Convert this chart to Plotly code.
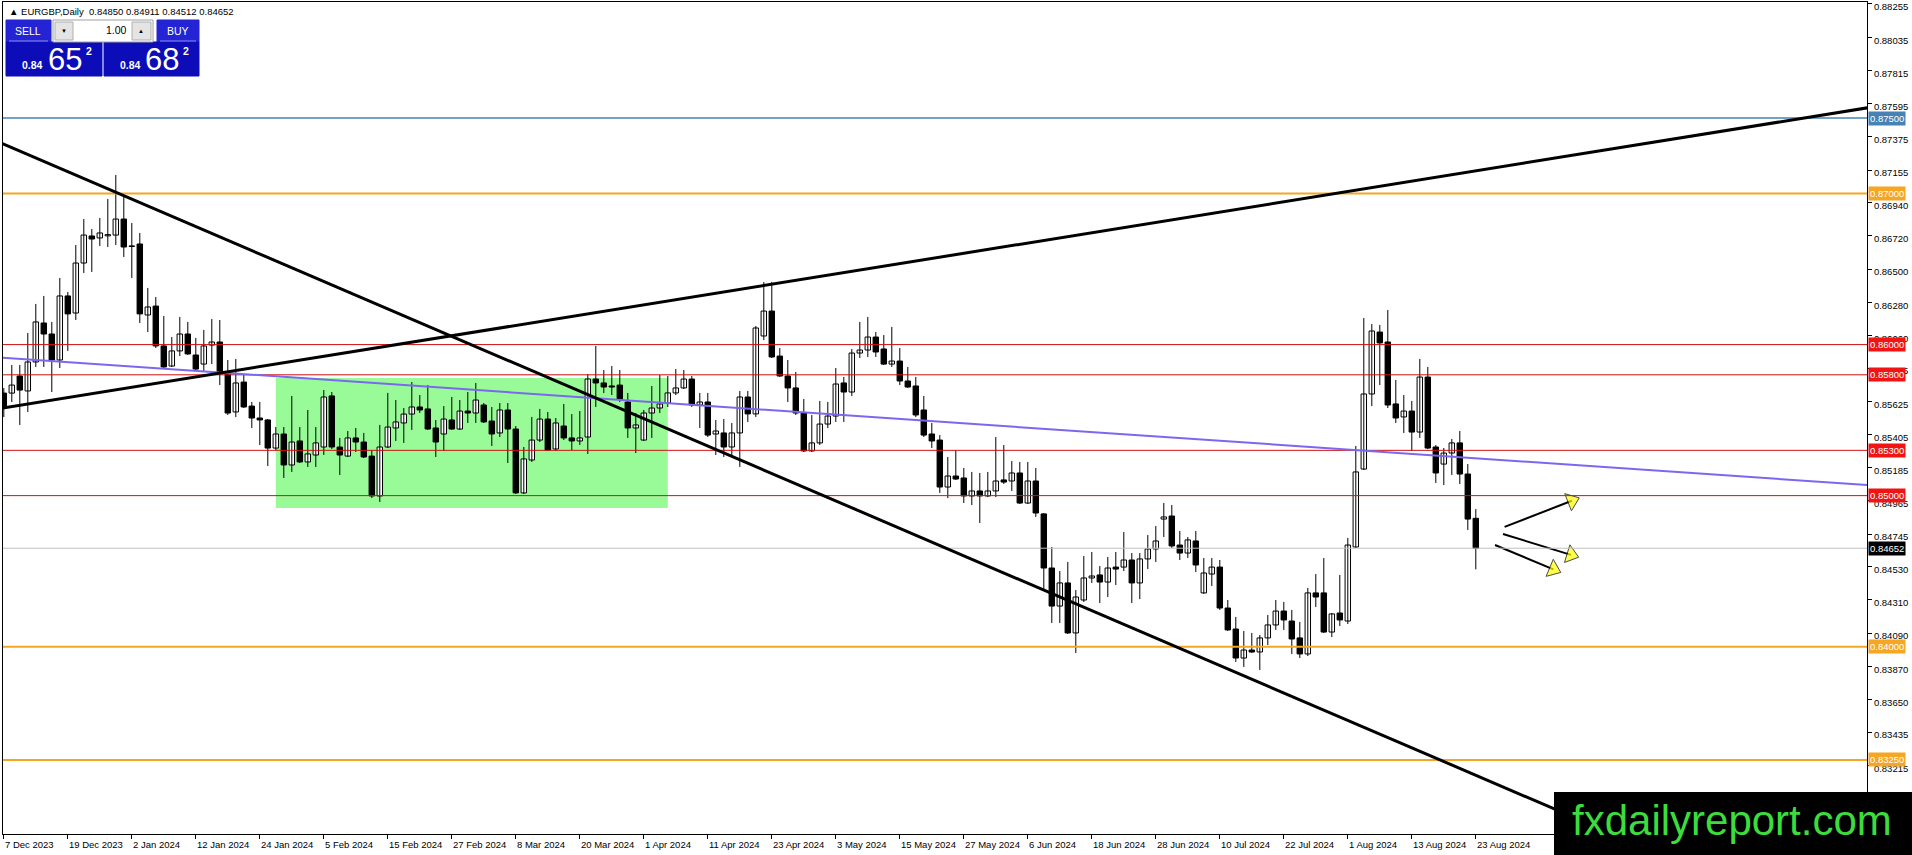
import plotly.graph_objects as go

# EURGBP daily bars, 7 Dec 2023 .. 23 Aug 2024 (bar index 0..184)
opens = [
    0.85679, 0.85679, 0.85792, 0.85693, 0.85885, 0.86143, 0.86070, 0.85898, 0.86322, 0.86209,
    0.86540, 0.86719, 0.86706, 0.86720, 0.86725, 0.86831, 0.86653, 0.86666, 0.86196, 0.86255,
    0.85991, 0.85858, 0.85958, 0.86070, 0.85931, 0.85871, 0.85997, 0.86017, 0.85805, 0.85554,
    0.85752, 0.85593, 0.85514, 0.85501, 0.85315, 0.85408, 0.85203, 0.85362, 0.85223, 0.85269,
    0.85322, 0.85660, 0.85322, 0.85262, 0.85382, 0.85355, 0.85262, 0.84998, 0.85322, 0.85448,
    0.85481, 0.85540, 0.85587, 0.85574, 0.85448, 0.85408, 0.85501, 0.85441, 0.85560, 0.85547,
    0.85600, 0.85494, 0.85415, 0.85567, 0.85441, 0.85018, 0.85236, 0.85368, 0.85507, 0.85309,
    0.85461, 0.85382, 0.85362, 0.85388, 0.85772, 0.85746, 0.85726, 0.85732, 0.85620, 0.85448,
    0.85368, 0.85547, 0.85580, 0.85613, 0.85680, 0.85713, 0.85772, 0.85600, 0.85620, 0.85408,
    0.85415, 0.85322, 0.85415, 0.85653, 0.85541, 0.86057, 0.86222, 0.85924, 0.85792, 0.85713,
    0.85547, 0.85296, 0.85349, 0.85474, 0.85527, 0.85746, 0.85686, 0.85944, 0.85964, 0.86050,
    0.85971, 0.85871, 0.85891, 0.85759, 0.85726, 0.85567, 0.85408, 0.85368, 0.85057, 0.85130,
    0.85117, 0.84998, 0.85031, 0.84998, 0.85031, 0.85104, 0.85097, 0.85150, 0.84951, 0.85097,
    0.84879, 0.84521, 0.84269, 0.84422, 0.84091, 0.84309, 0.84455, 0.84475, 0.84428, 0.84527,
    0.84527, 0.84574, 0.84422, 0.84581, 0.84647, 0.84845, 0.84865, 0.84673, 0.84620, 0.84700,
    0.84356, 0.84481, 0.84527, 0.84256, 0.84117, 0.83925, 0.83978, 0.83965, 0.84058, 0.84144,
    0.84236, 0.84170, 0.84058, 0.83952, 0.84356, 0.84356, 0.84097, 0.84223, 0.84170, 0.84660,
    0.85176, 0.85673, 0.86083, 0.86017, 0.85607, 0.85521, 0.85560, 0.85421, 0.85785, 0.85322,
    0.85209, 0.85282, 0.85349, 0.85143, 0.84850,
]
highs = [
    0.85712, 0.85865, 0.85865, 0.86077, 0.86269, 0.86322, 0.86150, 0.86441, 0.86348, 0.86659,
    0.86831, 0.86765, 0.86838, 0.86964, 0.87123, 0.86984, 0.86805, 0.86739, 0.86375, 0.86315,
    0.86189, 0.86050, 0.86183, 0.86150, 0.86044, 0.86097, 0.86169, 0.86163, 0.85898, 0.85905,
    0.85799, 0.85620, 0.85620, 0.85507, 0.85454, 0.85454, 0.85660, 0.85454, 0.85567, 0.85454,
    0.85699, 0.85686, 0.85382, 0.85428, 0.85448, 0.85415, 0.85302, 0.85468, 0.85680, 0.85633,
    0.85580, 0.85752, 0.85666, 0.85732, 0.85501, 0.85593, 0.85653, 0.85633, 0.85686, 0.85746,
    0.85613, 0.85587, 0.85613, 0.85613, 0.85461, 0.85322, 0.85521, 0.85574, 0.85554, 0.85514,
    0.85607, 0.85540, 0.85560, 0.85805, 0.85991, 0.85832, 0.85858, 0.85832, 0.85680, 0.85547,
    0.85567, 0.85726, 0.85799, 0.85792, 0.85838, 0.85832, 0.85792, 0.85680, 0.85680, 0.85501,
    0.85507, 0.85481, 0.85693, 0.85693, 0.86123, 0.86414, 0.86414, 0.85977, 0.85898, 0.85819,
    0.85640, 0.85534, 0.85627, 0.85620, 0.85845, 0.85786, 0.85971, 0.86150, 0.86183, 0.86083,
    0.86063, 0.86117, 0.85977, 0.85852, 0.85786, 0.85660, 0.85481, 0.85401, 0.85256, 0.85302,
    0.85183, 0.85157, 0.85150, 0.85157, 0.85388, 0.85335, 0.85229, 0.85223, 0.85223, 0.85183,
    0.84885, 0.84660, 0.84501, 0.84561, 0.84375, 0.84600, 0.84627, 0.84534, 0.84594, 0.84627,
    0.84759, 0.84620, 0.84620, 0.84739, 0.84799, 0.84951, 0.84938, 0.84766, 0.84726, 0.84766,
    0.84587, 0.84587, 0.84574, 0.84309, 0.84197, 0.84104, 0.84091, 0.84077, 0.84210, 0.84309,
    0.84296, 0.84243, 0.84164, 0.84389, 0.84481, 0.84587, 0.84223, 0.84475, 0.84720, 0.85329,
    0.86176, 0.86136, 0.86130, 0.86229, 0.85766, 0.85666, 0.85627, 0.85905, 0.85852, 0.85335,
    0.85315, 0.85375, 0.85428, 0.85209, 0.84911,
]
lows = [
    0.85520, 0.85620, 0.85468, 0.85554, 0.85852, 0.85852, 0.85686, 0.85845, 0.85958, 0.86163,
    0.86474, 0.86481, 0.86653, 0.86646, 0.86659, 0.86580, 0.86441, 0.86143, 0.86083, 0.85977,
    0.85845, 0.85852, 0.85924, 0.85931, 0.85825, 0.85825, 0.85871, 0.85732, 0.85534, 0.85520,
    0.85580, 0.85448, 0.85335, 0.85196, 0.85302, 0.85117, 0.85157, 0.85216, 0.85190, 0.85190,
    0.85269, 0.85309, 0.85137, 0.85256, 0.85289, 0.85249, 0.84984, 0.84958, 0.85315, 0.85362,
    0.85349, 0.85435, 0.85547, 0.85435, 0.85256, 0.85296, 0.85435, 0.85435, 0.85481, 0.85481,
    0.85481, 0.85329, 0.85388, 0.85216, 0.85011, 0.85011, 0.85223, 0.85355, 0.85296, 0.85296,
    0.85368, 0.85302, 0.85335, 0.85276, 0.85587, 0.85679, 0.85666, 0.85620, 0.85382, 0.85282,
    0.85362, 0.85382, 0.85547, 0.85587, 0.85666, 0.85706, 0.85587, 0.85448, 0.85388, 0.85269,
    0.85256, 0.85256, 0.85190, 0.85488, 0.85521, 0.86030, 0.85911, 0.85786, 0.85620, 0.85534,
    0.85289, 0.85289, 0.85335, 0.85448, 0.85488, 0.85488, 0.85660, 0.85911, 0.85918, 0.85918,
    0.85865, 0.85852, 0.85732, 0.85712, 0.85520, 0.85388, 0.85315, 0.85018, 0.84984, 0.85104,
    0.84951, 0.84938, 0.84819, 0.84991, 0.84991, 0.85077, 0.85031, 0.84945, 0.84945, 0.84859,
    0.84375, 0.84157, 0.84157, 0.84084, 0.83958, 0.84296, 0.84422, 0.84289, 0.84329, 0.84408,
    0.84501, 0.84289, 0.84315, 0.84514, 0.84561, 0.84726, 0.84653, 0.84574, 0.84587, 0.84494,
    0.84350, 0.84402, 0.84243, 0.84104, 0.83899, 0.83866, 0.83958, 0.83846, 0.84011, 0.84111,
    0.84111, 0.83952, 0.83925, 0.83938, 0.84263, 0.84091, 0.84064, 0.84137, 0.84150, 0.84653,
    0.85170, 0.85593, 0.85732, 0.85580, 0.85481, 0.85415, 0.85296, 0.85382, 0.85308, 0.85084,
    0.85070, 0.85137, 0.85077, 0.84773, 0.84512,
]
closes = [
    0.85580, 0.85732, 0.85699, 0.85885, 0.86150, 0.86070, 0.85898, 0.86322, 0.86203, 0.86540,
    0.86725, 0.86699, 0.86739, 0.86728, 0.86831, 0.86646, 0.86650, 0.86203, 0.86249, 0.85991,
    0.85852, 0.85958, 0.86070, 0.85938, 0.85838, 0.85991, 0.86017, 0.85819, 0.85547, 0.85746,
    0.85587, 0.85514, 0.85501, 0.85315, 0.85408, 0.85203, 0.85355, 0.85223, 0.85276, 0.85349,
    0.85653, 0.85322, 0.85269, 0.85382, 0.85355, 0.85256, 0.84998, 0.85322, 0.85454, 0.85488,
    0.85540, 0.85587, 0.85567, 0.85441, 0.85355, 0.85507, 0.85441, 0.85560, 0.85547, 0.85633,
    0.85488, 0.85408, 0.85567, 0.85441, 0.85018, 0.85243, 0.85368, 0.85507, 0.85302, 0.85481,
    0.85382, 0.85362, 0.85382, 0.85772, 0.85746, 0.85719, 0.85719, 0.85640, 0.85448, 0.85468,
    0.85547, 0.85580, 0.85607, 0.85680, 0.85713, 0.85772, 0.85600, 0.85620, 0.85401, 0.85428,
    0.85322, 0.85415, 0.85653, 0.85541, 0.86110, 0.86222, 0.85918, 0.85792, 0.85713, 0.85547,
    0.85296, 0.85349, 0.85474, 0.85527, 0.85739, 0.85686, 0.85944, 0.85964, 0.86050, 0.85951,
    0.85871, 0.85891, 0.85759, 0.85719, 0.85534, 0.85401, 0.85362, 0.85057, 0.85130, 0.85110,
    0.84998, 0.85031, 0.84998, 0.85031, 0.85097, 0.85090, 0.85150, 0.84951, 0.85097, 0.84885,
    0.84521, 0.84269, 0.84422, 0.84091, 0.84329, 0.84455, 0.84468, 0.84428, 0.84521, 0.84514,
    0.84574, 0.84422, 0.84581, 0.84647, 0.84700, 0.84859, 0.84667, 0.84620, 0.84707, 0.84541,
    0.84488, 0.84527, 0.84256, 0.84111, 0.83925, 0.83978, 0.83965, 0.84058, 0.84144, 0.84236,
    0.84177, 0.84051, 0.83952, 0.84356, 0.84329, 0.84097, 0.84217, 0.84177, 0.84673, 0.85157,
    0.85673, 0.86090, 0.86011, 0.85600, 0.85514, 0.85560, 0.85421, 0.85785, 0.85315, 0.85150,
    0.85282, 0.85349, 0.85143, 0.84845, 0.84652,
]

# time axis labels, one every 8 bars
date_labels = [
    "7 Dec 2023", "19 Dec 2023", "2 Jan 2024", "12 Jan 2024", "24 Jan 2024", "5 Feb 2024",
    "15 Feb 2024", "27 Feb 2024", "8 Mar 2024", "20 Mar 2024", "1 Apr 2024", "11 Apr 2024",
    "23 Apr 2024", "3 May 2024", "15 May 2024", "27 May 2024", "6 Jun 2024", "18 Jun 2024",
    "28 Jun 2024", "10 Jul 2024", "22 Jul 2024", "1 Aug 2024", "13 Aug 2024", "23 Aug 2024",
]
date_bars = list(range(0, 185, 8))

price_ticks = [
    0.88255, 0.88035, 0.87815, 0.87595, 0.87375, 0.87155, 0.86940, 0.86720, 0.86500, 0.86280,
    0.86060, 0.85845, 0.85625, 0.85405, 0.85185, 0.84965, 0.84745, 0.84530, 0.84310, 0.84090,
    0.83870, 0.83650, 0.83435, 0.83215,
]

# horizontal levels
blue_levels = [0.87500]
orange_levels = [0.87000, 0.84000, 0.83250]
red_levels = [0.86000, 0.85800, 0.85300, 0.85000]
bid_price = 0.84652

# drawn objects: (bar, price) anchor pairs
down_trend = [(0, 0.87326), (194, 0.82922)]
up_trend = [(0, 0.85581), (233, 0.87568)]
regression = [(0, 0.85913), (233, 0.85070)]
range_box = [(34, 0.84918), (83, 0.85779)]
arrows = [
    [(187.6, 0.84793), (196.0, 0.84966)],
    [(187.4, 0.84746), (195.9, 0.84608)],
    [(186.4, 0.84673), (193.7, 0.84512)],
]

FONT = "Liberation Sans"
X_RANGE = [-0.1, 232.9]
Y_RANGE = [0.82760, 0.88268]

# page geometry helpers (pixels -> paper)
PL, PT, PR, PB = 3, 2, 1867, 834


def fx(p):
    return (p - PL) / (PR - PL)


def fy(p):
    return (PB - p) / (PB - PT)


def line_at(pts, x):
    (x0, y0), (x1, y1) = pts
    return y0 + (y1 - y0) * (x - x0) / (x1 - x0)


idx = list(range(len(opens)))
body_base = [min(o, c) for o, c in zip(opens, closes)]
body_h = [max(abs(c - o), 0.00002) for o, c in zip(opens, closes)]
body_col = ["white" if c >= o else "black" for o, c in zip(opens, closes)]

wx, wy = [], []
for i in idx:
    wx += [i, i, None]
    wy += [lows[i], highs[i], None]

fig = go.Figure()

fig.add_trace(go.Scatter(x=wx, y=wy, mode="lines", line=dict(color="black", width=1),
                         hoverinfo="skip", showlegend=False))
fig.add_trace(go.Bar(x=idx, y=body_h, base=body_base, width=0.68,
                     marker=dict(color=body_col, line=dict(color="black", width=1)),
                     showlegend=False))

shapes = []
# green consolidation box
shapes.append(dict(type="rect", xref="x", yref="y", layer="below",
                   x0=range_box[0][0], x1=range_box[1][0], y0=range_box[0][1], y1=range_box[1][1],
                   fillcolor="#98FB98", line=dict(width=0)))

for p in red_levels:
    shapes.append(dict(type="line", xref="paper", yref="y", x0=0, x1=1, y0=p, y1=p,
                       line=dict(color="#D01010", width=1)))
for p in orange_levels:
    shapes.append(dict(type="line", xref="paper", yref="y", x0=0, x1=1, y0=p, y1=p,
                       line=dict(color="#F5A623", width=2)))
for p in blue_levels:
    shapes.append(dict(type="line", xref="paper", yref="y", x0=0, x1=1, y0=p, y1=p,
                       line=dict(color="#4682B4", width=1.5)))
shapes.append(dict(type="line", xref="paper", yref="y", x0=0, x1=1, y0=bid_price, y1=bid_price,
                   line=dict(color="#C0C0C0", width=1)))

for pts, col, w in [(regression, "#7B68EE", 2), (down_trend, "black", 3), (up_trend, "black", 3)]:
    shapes.append(dict(type="line", xref="x", yref="y",
                       x0=-2, x1=240, y0=line_at(pts, -2), y1=line_at(pts, 240),
                       line=dict(color=col, width=w)))

for a in arrows:
    fig.add_trace(go.Scatter(
        x=[a[0][0], a[1][0]], y=[a[0][1], a[1][1]], mode="lines+markers",
        line=dict(color="black", width=2),
        marker=dict(symbol="triangle-up", size=[0, 16], angleref="previous",
                    color="#FFFF00", line=dict(color="black", width=1)),
        hoverinfo="skip", showlegend=False))

# one-click trading panel
panel = [
    (6, 51, 20, 42, "#2424D4", None),
    (157, 199, 20, 42, "#2424D4", None),
    (6, 102, 42, 76, "#0C0CB8", None),
    (104, 199, 42, 76, "#0C0CB8", None),
    (53, 153, 20, 42, "white", "#A0A0A0"),
    (55, 73, 22, 40, "#E4E4E4", "#B0B0B0"),
    (132, 151, 22, 40, "#E4E4E4", "#B0B0B0"),
]
for x0, x1, y0, y1, fill, edge in panel:
    shapes.append(dict(type="rect", xref="paper", yref="paper", layer="above",
                       x0=fx(x0), x1=fx(x1), y0=fy(y1), y1=fy(y0), fillcolor=fill,
                       line=dict(color=edge or fill, width=1)))
for x0, x1 in [(9, 48), (160, 196)]:
    shapes.append(dict(type="line", xref="paper", yref="paper", x0=fx(x0), x1=fx(x1),
                       y0=fy(41), y1=fy(41), line=dict(color="#8A8AF0", width=1)))

# watermark box
shapes.append(dict(type="rect", xref="paper", yref="paper", layer="above",
                   x0=fx(1554), x1=fx(1920), y0=fy(860), y1=fy(792),
                   fillcolor="black", line=dict(width=0)))

ann = []


def txt(x, y, s, size, color="white", anchor="center", bold=False):
    ann.append(dict(xref="paper", yref="paper", x=fx(x), y=fy(y), text=f"<b>{s}</b>" if bold else s,
                    showarrow=False, xanchor=anchor, yanchor="middle",
                    font=dict(family=FONT, size=size, color=color)))


txt(7, 11, "▲ EURGBP,Daily  0.84850 0.84911 0.84512 0.84652", 9.5, "black", "left")
txt(28, 31, "SELL", 10.5)
txt(178, 31, "BUY", 10.5)
txt(64, 31, "▼", 6, "black")
txt(141, 31, "▲", 6, "black")
txt(129, 30, "1.00", 10.5, "black", "right")
txt(32, 65, "0.84", 10.5, bold=True)
txt(65, 59, "65", 31)
txt(89, 51, "2", 10.5, bold=True)
txt(130, 65, "0.84", 10.5, bold=True)
txt(162, 59, "68", 31)
txt(186, 51, "2", 10.5, bold=True)
txt(1732, 820, "fxdailyreport.com", 42, "#3CDC3C")

# date labels, left aligned at their tick
for b, lab in zip(date_bars, date_labels):
    ann.append(dict(xref="x", yref="paper", x=b, y=0, yshift=-3, text=lab, showarrow=False,
                    xanchor="left", yanchor="top", xshift=-1,
                    font=dict(family=FONT, size=9.5, color="black")))

# price labels of the level lines on the axis
level_tags = ([(p, "#4682B4") for p in blue_levels] + [(p, "#F5A623") for p in orange_levels]
              + [(p, "#F01414") for p in red_levels] + [(bid_price, "black")])
for p, col in level_tags:
    ann.append(dict(xref="paper", yref="y", x=1, y=p, xshift=1, text=f"{p:.5f}", showarrow=False,
                    xanchor="left", yanchor="middle", bgcolor=col, borderpad=1,
                    font=dict(family=FONT, size=9.5, color="white")))

fig.update_layout(
    width=1912, height=855,
    margin=dict(l=PL, r=1912 - PR, t=PT, b=855 - PB, autoexpand=False),
    paper_bgcolor="white", plot_bgcolor="white",
    barmode="overlay", showlegend=False,
    shapes=shapes, annotations=ann,
    xaxis=dict(range=X_RANGE, showgrid=False, zeroline=False, showline=True, mirror=True,
               linecolor="black", linewidth=1, ticks="outside", ticklen=4, tickcolor="black",
               tickvals=date_bars, ticktext=[""] * len(date_bars), automargin=False),
    yaxis=dict(range=Y_RANGE, side="right", showgrid=False, zeroline=False, showline=True,
               mirror=True, linecolor="black", linewidth=1, ticks="outside", ticklen=4,
               tickcolor="black", tickvals=price_ticks, ticktext=[f"{v:.5f}" for v in price_ticks],
               tickfont=dict(family=FONT, size=9.5, color="black"), automargin=False,
               ticklabeloverflow="allow", ticklabelshift=3),
)

# the page body has a default margin; drop it so the chart fills the window
fig.write_html("out.html", config={"displayModeBar": False},
               post_script="document.body.style.margin='0px';"
               "document.body.style.overflow='hidden';")
